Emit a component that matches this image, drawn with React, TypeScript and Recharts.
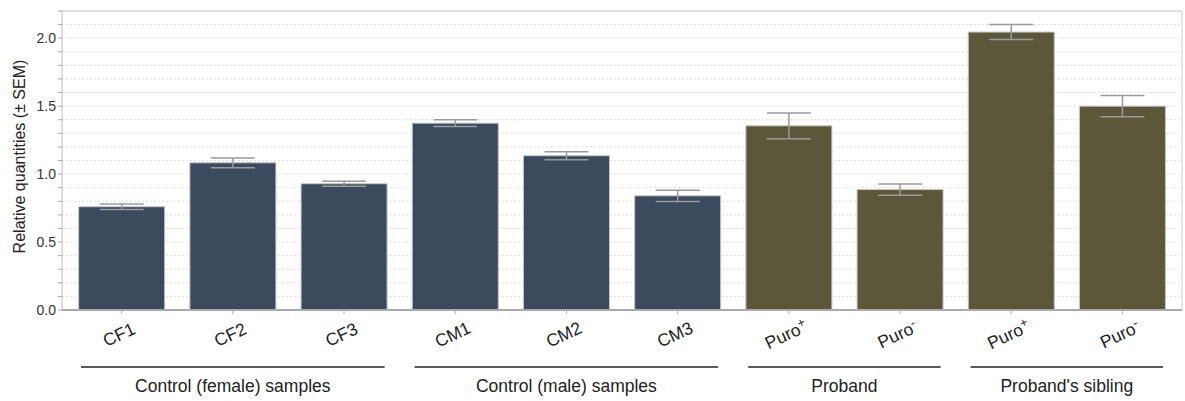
import {
  BarChart,
  Bar,
  XAxis,
  YAxis,
  CartesianGrid,
  ErrorBar,
  Cell,
  ReferenceLine,
} from "recharts";

const samples = ["CF1", "CF2", "CF3", "CM1", "CM2", "CM3", "Puro+", "Puro-", "Puro+", "Puro-"];
const quantities = [0.76, 1.083, 0.929, 1.375, 1.135, 0.84, 1.355, 0.886, 2.045, 1.5];
const sem = [0.02, 0.036, 0.018, 0.025, 0.03, 0.042, 0.095, 0.042, 0.055, 0.078];

const groupNames = ["Control (female) samples", "Control (male) samples", "Proband", "Proband's sibling"];
const groupSizes = [3, 3, 2, 2];

const yTicks = [0, 0.1, 0.2, 0.3, 0.4, 0.5, 0.6, 0.7, 0.8, 0.9, 1.0, 1.1, 1.2, 1.3, 1.4, 1.5, 1.6, 1.7, 1.8, 1.9, 2.0, 2.1, 2.2];
const yLabels = ["0.0", "0.5", "1.0", "1.5", "2.0"];

const W = 1185;
const H = 401;
const AXIS_W = 62;
const RIGHT = 3;
const PAD = 4;
const BAND = (W - AXIS_W - RIGHT - 2 * PAD) / samples.length;
const FONT = "'Liberation Sans', Arial, sans-serif";

const SLATE = "#3b4a5d";
const OLIVE = "#5d573a";

// which group each sample belongs to, and where each group starts
const groupOf: number[] = [];
const groupStart: number[] = [];
groupSizes.forEach((n, g) => {
  groupStart.push(groupOf.length);
  for (let k = 0; k < n; k++) groupOf.push(g);
});

const data = samples.map((s, i) => ({ name: s, value: quantities[i], err: sem[i] }));

function SampleTick(props: any) {
  const { x, y, index } = props;
  const name = samples[index];
  const base = name.replace(/[+-]$/, "");
  const sup = name.match(/[+-]$/)?.[0];
  const ly = y + 24;
  const g = groupOf[index];
  const isStart = groupStart[g] === index;
  const inset = 15;
  const x1 = x - BAND / 2 + inset;
  const x2 = x + (groupSizes[g] - 1) * BAND + BAND / 2 - inset;
  return (
    <g>
      <text
        x={x}
        y={ly}
        textAnchor="middle"
        transform={`rotate(-25 ${x} ${ly})`}
        fontSize={17.5}
        fontFamily={FONT}
        fill="#222"
      >
        {base}
        {sup && (
          <tspan dy={-6} fontSize={13}>
            {sup}
          </tspan>
        )}
      </text>
      {isStart && (
        <g>
          <line x1={x1} x2={x2} y1={y + 51} y2={y + 51} stroke="#222" strokeWidth={1.5} />
          <text
            x={(x1 + x2) / 2}
            y={y + 76}
            textAnchor="middle"
            fontSize={17.5}
            fontFamily={FONT}
            fill="#222"
          >
            {groupNames[g]}
          </text>
        </g>
      )}
    </g>
  );
}

export default function App() {
  return (
    <div style={{ position: "absolute", left: 0, top: 0, background: "#fff" }}>
      <BarChart
        width={W}
        height={H}
        data={data}
        margin={{ top: 11, right: 0, left: 0, bottom: 0 }}
        barCategoryGap="11.4%"
      >
        <CartesianGrid vertical={false} stroke="#dcdcdc" strokeDasharray="2 2" />
        <XAxis
          dataKey="name"
          height={91}
          padding={{ left: PAD, right: PAD }}
          tickLine={{ stroke: "#aaa" }}
          tickSize={4}
          axisLine={{ stroke: "#aaa", strokeWidth: 2 }}
          interval={0}
          tick={<SampleTick />}
        />
        <YAxis
          width={AXIS_W}
          domain={[0, 2.2]}
          ticks={yTicks}
          interval={0}
          tickSize={4}
          tickLine={{ stroke: "#aaa" }}
          axisLine={{ stroke: "#bbb" }}
          tick={{ fontSize: 14, fill: "#333", fontFamily: FONT }}
          tickFormatter={(v: number) => yLabels.find((l) => Math.abs(parseFloat(l) - v) < 1e-6) ?? ""}
          label={{
            content: ({ viewBox }: any) => {
              const cy = viewBox.y + viewBox.height / 2 - 4;
              return (
                <text
                  x={25}
                  y={cy}
                  textAnchor="middle"
                  transform={`rotate(-90 25 ${cy})`}
                  fontSize={16}
                  fontFamily={FONT}
                  fill="#222"
                >
                  Relative quantities (± SEM)
                </text>
              );
            },
          }}
        />
        <YAxis
          yAxisId="frame"
          orientation="right"
          width={RIGHT}
          tick={false}
          tickLine={false}
          axisLine={{ stroke: "#ccc" }}
        />
        <ReferenceLine y={2.2} stroke="#c8c8c8" />
        <Bar dataKey="value" stroke="#c4c4c4" strokeWidth={1} isAnimationActive={false}>
          {data.map((_, i) => (
            <Cell key={i} fill={groupOf[i] < 2 ? SLATE : OLIVE} />
          ))}
          <ErrorBar dataKey="err" width={22} stroke="#9a9a9a" strokeWidth={1.5} />
        </Bar>
      </BarChart>
    </div>
  );
}
